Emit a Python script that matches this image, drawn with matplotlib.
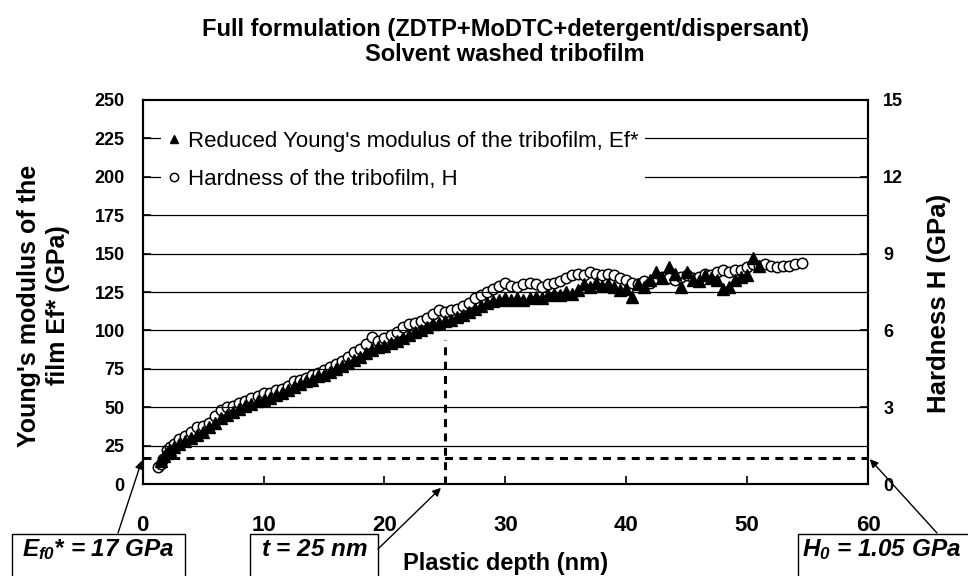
import numpy as np
import matplotlib
matplotlib.use("Agg")
import matplotlib.pyplot as plt
from matplotlib import rcParams
from matplotlib.patches import Rectangle

rcParams.update({
    "font.family": "Liberation Sans",
    "mathtext.fontset": "custom",
    "mathtext.rm": "Liberation Sans:bold:italic",
    "mathtext.it": "Liberation Sans:bold:italic",
    "mathtext.bf": "Liberation Sans:bold:italic",
})

# hardness of the tribofilm (right axis, GPa)
depth_h = [1.3, 1.5, 1.7, 2.0, 2.3, 2.6, 3.0, 3.5, 4.0, 4.5, 5.0, 5.5, 6.0, 6.5, 7.0, 7.5,
           8.0, 8.5, 9.0, 9.5, 10.0, 10.5, 11.0, 11.5, 12.0, 12.5, 13.0, 13.5, 14.0, 14.5,
           15.0, 15.5, 16.0, 16.5, 17.0, 17.5, 18.0, 18.5, 19.0, 19.5, 20.0, 20.5, 21.0,
           21.5, 22.0, 22.5, 23.0, 23.5, 24.0, 24.5, 25.0, 25.5, 26.0, 26.5, 27.0, 27.5,
           28.0, 28.5, 29.0, 29.5, 30.0, 30.5, 31.0, 31.5, 32.0, 32.5, 33.0, 33.5, 34.0,
           34.5, 35.0, 35.5, 36.0, 36.5, 37.0, 37.5, 38.0, 38.5, 39.0, 39.5, 40.0, 40.5,
           41.0, 41.5, 42.0, 42.5, 43.0, 43.5, 44.0, 44.5, 45.0, 45.5, 46.0, 46.5, 47.0,
           47.5, 48.0, 48.5, 49.0, 49.5, 50.0, 50.5, 51.0, 51.5, 52.0, 52.5, 53.0, 53.5,
           54.0, 54.5]
hardness = [0.66, 0.78, 0.96, 1.32, 1.44, 1.56, 1.74, 1.86, 2.04, 2.22, 2.28, 2.40, 2.64,
            2.88, 3.00, 3.06, 3.18, 3.24, 3.36, 3.42, 3.54, 3.54, 3.66, 3.72, 3.84, 4.02,
            4.08, 4.14, 4.26, 4.32, 4.44, 4.56, 4.68, 4.80, 4.98, 5.16, 5.28, 5.46, 5.76,
            5.58, 5.70, 5.82, 5.94, 6.12, 6.24, 6.30, 6.36, 6.48, 6.66, 6.78, 6.72, 6.78,
            6.84, 6.96, 7.08, 7.26, 7.38, 7.50, 7.62, 7.74, 7.86, 7.74, 7.68, 7.80, 7.86,
            7.80, 7.68, 7.80, 7.86, 7.92, 8.04, 8.16, 8.22, 8.16, 8.28, 8.22, 8.16, 8.22,
            8.16, 8.04, 7.98, 7.86, 7.80, 7.92, 7.86, 8.04, 8.10, 8.04, 7.98, 8.10, 8.16,
            8.04, 8.10, 8.22, 8.16, 8.28, 8.34, 8.28, 8.34, 8.34, 8.46, 8.58, 8.52, 8.58,
            8.52, 8.46, 8.52, 8.52, 8.58, 8.64]

# reduced Young's modulus of the tribofilm (left axis, GPa)
depth_e = [1.5, 1.8, 2.0, 2.3, 2.6, 3.0, 3.5, 4.0, 4.5, 5.0, 5.5, 6.0, 6.5, 7.0, 7.5, 8.0,
           8.5, 9.0, 9.5, 10.0, 10.5, 11.0, 11.5, 12.0, 12.5, 13.0, 13.5, 14.0, 14.5, 15.0,
           15.5, 16.0, 16.5, 17.0, 17.5, 18.0, 18.5, 19.0, 19.5, 20.0, 20.5, 21.0, 21.5,
           22.0, 22.5, 23.0, 23.5, 24.0, 24.5, 25.0, 25.5, 26.0, 26.5, 27.0, 27.5, 28.0,
           28.5, 29.0, 29.5, 30.0, 30.5, 31.0, 31.5, 32.0, 32.5, 33.0, 33.5, 34.0, 34.5,
           35.0, 35.5, 36.0, 36.5, 37.0, 37.5, 38.0, 38.5, 39.0, 39.5, 40.0, 40.5, 41.0,
           41.5, 42.0, 42.5, 43.0, 43.5, 44.0, 44.5, 45.0, 45.5, 46.0, 46.5, 47.0, 47.5,
           48.0, 48.5, 49.0, 49.5, 50.0, 50.5, 51.0]
modulus = [15, 18, 20, 22, 24, 26, 28, 30, 32, 34, 37, 40, 43, 45, 47, 49, 51, 52, 54, 55,
           56, 58, 59, 61, 63, 65, 67, 68, 70, 71, 73, 75, 77, 79, 81, 83, 85, 87, 89, 90,
           92, 93, 95, 97, 99, 100, 102, 104, 105, 106, 107, 109, 110, 112, 114, 116, 118,
           119, 120, 121, 120, 121, 120, 121, 122, 121, 123, 124, 123, 125, 124, 126, 130,
           128, 131, 129, 130, 128, 126, 127, 122, 130, 128, 133, 138, 134, 141, 137, 128,
           138, 133, 132, 136, 134, 133, 127, 128, 133, 135, 136, 147, 142]

e_f0 = 17      # GPa
h_0 = 1.05     # GPa
t_film = 25    # nm
t_top = 94     # top of the vertical marker line (left axis units)

fig = plt.figure(figsize=(9.68, 5.76), dpi=100)
ax = fig.add_axes([0.1474, 0.1597, 0.7493, 0.6667])
ax2 = ax.twinx()

# grid lines every 25 GPa
for yv in range(25, 250, 25):
    ax.axhline(yv, color="black", lw=0.9, zorder=1)

ax2.plot(depth_h, hardness, linestyle="none", marker="o", markersize=7.5,
         markerfacecolor="white", markeredgecolor="black", markeredgewidth=1.1,
         label="Hardness of the tribofilm, H", zorder=3)
ax.plot(depth_e, modulus, linestyle="none", marker="^", markersize=8,
        color="black", label="Reduced Young's modulus of the tribofilm, Ef*", zorder=4)

ax.plot([0, 60], [e_f0, e_f0], color="black", lw=2.2, linestyle=(0, (2.6, 2.1)), zorder=5)
ax.plot([t_film, t_film], [0, t_top], color="black", lw=2.2, linestyle=(0, (2.6, 2.1)), zorder=5)

ax.set_xlim(0, 60)
ax.set_ylim(0, 250)
ax2.set_ylim(0, 15)
ax.set_xticks(range(0, 61, 10))
ax.set_yticks(range(0, 251, 25))
ax2.set_yticks(range(0, 16, 3))
ax.set_zorder(ax2.get_zorder() + 1)
ax.patch.set_visible(False)

for a in (ax, ax2):
    for s in a.spines.values():
        s.set_linewidth(1.5)
ax.tick_params(axis="x", direction="in", length=6, width=1.2, pad=22, labelsize=16)
ax.tick_params(axis="y", direction="in", length=6, width=1.2, pad=13, labelsize=13)
ax2.tick_params(axis="y", direction="in", length=6, width=1.2, pad=11, labelsize=13)
for lab in ax.get_xticklabels() + ax.get_yticklabels() + ax2.get_yticklabels():
    lab.set_fontweight("bold")

ax.set_xlabel("Plastic depth (nm)", fontsize=17, fontweight="bold")
ax.xaxis.set_label_coords(0.5, -0.177)
ax.set_ylabel("Young's modulus of the\nfilm Ef* (GPa)", fontsize=18, fontweight="bold",
              linespacing=1.25)
ax.yaxis.set_label_coords(-0.100, 0.465)
ax2.set_ylabel("Hardness H (GPa)", fontsize=18.5, fontweight="bold")
ax2.yaxis.set_label_coords(1.081, 0.47)
fig.suptitle("Full formulation (ZDTP+MoDTC+detergent/dispersant)\nSolvent washed tribofilm",
             fontsize=17, fontweight="bold", x=0.522, y=0.968, va="top", linespacing=1.1)

h1, l1 = ax.get_legend_handles_labels()
h2, l2 = ax2.get_legend_handles_labels()
leg = ax.legend(h1 + h2, l1 + l2, loc="upper left", bbox_to_anchor=(0.01, 0.965),
                fontsize=16, frameon=True, fancybox=False, edgecolor="none",
                facecolor="white", framealpha=1, handlelength=0.6, handletextpad=0.3,
                labelspacing=0.76, borderpad=0.3, markerscale=0.8)
leg.set_zorder(10)

# annotation boxes under the axis
W, H = 968, 576
boxes = [
    (12, 185, r"$E_{f0}$* = 17 GPa", 98, "center"),
    (250, 378, r"$t$ = 25 nm", 314, "center"),
    (798, 990, r"$H_0$ = 1.05 GPa", 802, "left"),
]
for x0, x1, txt, tx, ha in boxes:
    fig.add_artist(Rectangle((x0 / W, -10 / H), (x1 - x0) / W, 52 / H,
                             transform=fig.transFigure, facecolor="white",
                             edgecolor="black", lw=1.0))
    fig.text(tx / W, 26 / H, txt, ha=ha, va="center", fontsize=17.5,
             fontweight="bold", fontstyle="italic")

arrow = dict(arrowstyle="-|>", color="black", lw=1.0, mutation_scale=12,
             shrinkA=0, shrinkB=2)
ax.annotate("", xy=(0, e_f0), xycoords="data", xytext=(118, 43),
            textcoords="figure pixels", arrowprops=arrow, annotation_clip=False)
ax.annotate("", xy=(t_film, 0), xycoords="data", xytext=(378, 27),
            textcoords="figure pixels", arrowprops=dict(arrow, shrinkB=4), annotation_clip=False)
ax2.annotate("", xy=(60, h_0), xycoords="data", xytext=(937, 43),
             textcoords="figure pixels", arrowprops=arrow, annotation_clip=False)

fig.savefig("out.png", dpi=100)
